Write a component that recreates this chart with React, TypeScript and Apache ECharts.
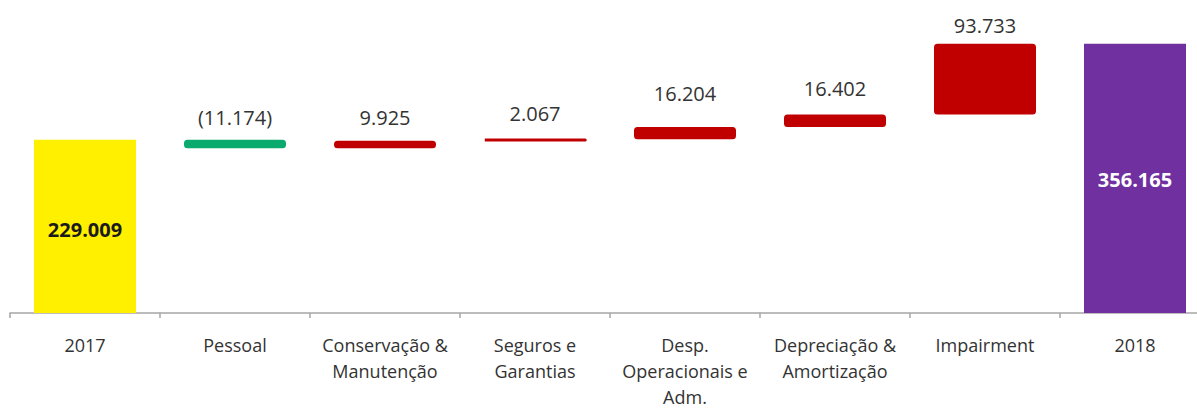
import React, { useEffect, useRef } from "react";
import * as echarts from "echarts";

const categories = [
  "2017",
  "Pessoal",
  "Conservação &\nManutenção",
  "Seguros e\nGarantias",
  "Desp.\nOperacionais e\nAdm.",
  "Depreciação &\nAmortização",
  "Impairment",
  "2018",
];
// signed changes; first and last are totals
const startTotal = 229.009;
const changes = [-11.174, 9.925, 2.067, 16.204, 16.402, 93.733];
const endTotal = 356.165;
const valueLabels = ["229.009", "(11.174)", "9.925", "2.067", "16.204", "16.402", "93.733", "356.165"];
const barColors = ["#FFF000", "#0AAA6E", "#C00000", "#C00000", "#C00000", "#C00000", "#C00000", "#7030A0"];
// label distance above bars (style only)
const labelGaps = [0, 12, 13, 15, 23, 16, 8, 0];

export default function App() {
  const ref = useRef<HTMLDivElement>(null);
  useEffect(() => {
    if (!ref.current) return;
    const chart = echarts.init(ref.current, undefined, { renderer: "svg" });
    const base: number[] = [0];
    const vis: number[] = [startTotal];
    let cum = startTotal;
    changes.forEach((c) => {
      const next = cum + c;
      base.push(Math.min(cum, next));
      vis.push(Math.abs(c));
      cum = next;
    });
    base.push(0);
    vis.push(endTotal);
    const font = "'Open Sans', Lato, sans-serif";
    chart.setOption({
      animation: false,
      grid: { left: 10, right: 0, top: 0, bottom: 89, containLabel: false },
      xAxis: {
        type: "category",
        data: categories,
        axisLine: { lineStyle: { color: "#A6A6A6", width: 1.5 } },
        axisTick: { show: true, alignWithLabel: false, length: 5, lineStyle: { color: "#A6A6A6", width: 1.5 } },
        axisLabel: {
          interval: 0,
          color: "#333333",
          fontFamily: font,
          fontSize: 18,
          lineHeight: 26,
          margin: 19,
        },
      },
      yAxis: {
        type: "value",
        min: 0,
        max: 414,
        show: false,
        splitLine: { show: false },
      },
      series: [
        {
          type: "bar",
          stack: "w",
          data: base,
          itemStyle: { color: "transparent" },
          barWidth: "68%",
          silent: true,
        },
        {
          type: "bar",
          stack: "w",
          barWidth: "68%",
          data: vis.map((v, i) => {
            const isTotal = i === 0 || i === vis.length - 1;
            return {
              value: v,
              itemStyle: {
                color: barColors[i],
                borderRadius: isTotal ? 0 : 2,
                borderColor: barColors[i],
                borderWidth: isTotal ? 0 : 3,
                borderJoin: "round",
              },
              label: {
                show: true,
                formatter: valueLabels[i],
                position: isTotal ? "inside" : "top",
                distance: labelGaps[i],
                fontFamily: font,
                fontSize: 20,
                fontWeight: isTotal ? "bold" : "normal",
                color: i === vis.length - 1 ? "#FFFFFF" : i === 0 ? "#1A1A1A" : "#333333",
                offset: i === 0 ? [0, 3] : isTotal ? [0, 1] : [0, 0],
              },
            };
          }),
        },
      ],
    });
    return () => chart.dispose();
  }, []);
  return (
    <div style={{ position: "absolute", left: 0, top: 0, width: 1197, height: 410, overflow: "hidden", background: "#fff" }}>
      <div ref={ref} style={{ width: 1210, height: 410 }} />
    </div>
  );
}
